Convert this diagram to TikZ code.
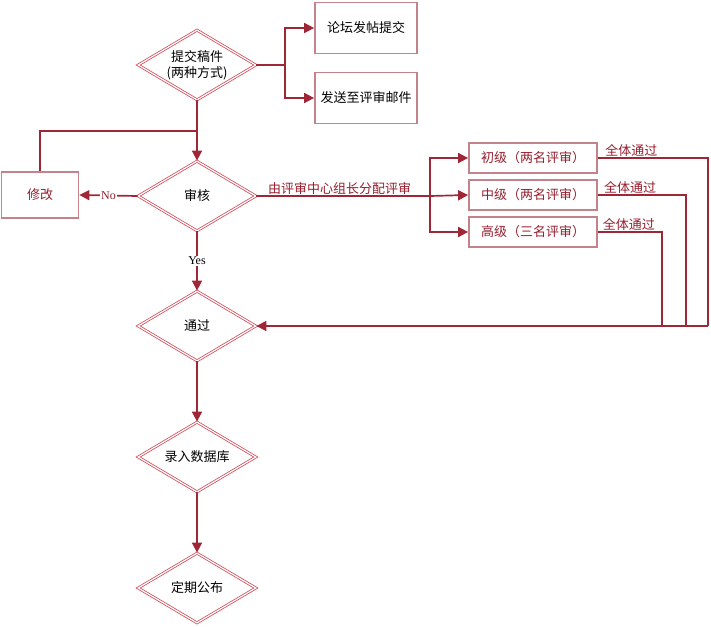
\documentclass[tikz,border=0pt]{standalone}
\usepackage{fontspec}
\setmainfont{Liberation Serif}
\newfontfamily\cjk{Noto Sans CJK SC}
\usetikzlibrary{shapes.geometric,arrows.meta,calc}
\definecolor{conncol}{RGB}{158,38,54}
\definecolor{diacol}{RGB}{212,78,92}
\definecolor{boxcol}{RGB}{196,130,138}
\definecolor{txtred}{RGB}{150,30,45}
\tikzset{
  dia/.style={diamond, draw=diacol, line width=0.8pt, double=white, double distance=1.2pt,
    minimum width=118pt, minimum height=70pt, inner sep=0pt},
  diatext/.style={align=center, inner sep=0pt, font=\cjk\fontsize{13}{16}\selectfont, text=black},
  rbox/.style={rectangle, draw=boxcol, line width=1.8pt, fill=white, align=center,
    font=\cjk\fontsize{13}{16}\selectfont},
  conn/.style={draw=conncol, line width=1.7pt},
  arr/.style={conn, -{Triangle[length=10pt,width=10pt]}},
  lbl/.style={font=\cjk\fontsize{13}{16}\selectfont, text=txtred, inner sep=1pt},
  yn/.style={font=\fontsize{12}{14}\selectfont, fill=white, inner sep=1pt}
}
\begin{document}
\begin{tikzpicture}[x=1pt,y=-1pt]
\useasboundingbox (0,0) rectangle (711,626);
% diamonds
\node[dia] (d1) at (197,65) {};
\node[diatext] (d1t) at (d1.center) {提交稿件\\(两种方式)};
\node[dia] (d2) at (197,196) {};
\node[diatext] (d2t) at (d2.center) {审核};
\node[dia] (d3) at (197,326) {};
\node[diatext] (d3t) at (d3.center) {通过};
\node[dia] (d4) at (197,457) {};
\node[diatext] (d4t) at (d4.center) {录入数据库};
\node[dia] (d5) at (197,588) {};
\node[diatext] (d5t) at (d5.center) {定期公布};
% boxes
\node[rbox, minimum width=102pt, minimum height=51pt, text=black] (b1) at (366,28) {论坛发帖提交};
\node[rbox, minimum width=102pt, minimum height=51pt, text=black] (b2) at (366,98) {发送至评审邮件};
\node[rbox, minimum width=77pt, minimum height=46pt, text=txtred] (m) at (40,195) {修改};
\node[rbox, minimum width=128pt, minimum height=30pt, text=txtred] (r1) at (533,158) {初级（两名评审）};
\node[rbox, minimum width=128pt, minimum height=30pt, text=txtred] (r2) at (533,195) {中级（两名评审）};
\node[rbox, minimum width=128pt, minimum height=30pt, text=txtred] (r3) at (533,232) {高级（三名评审）};
% coordinates
\coordinate (j1) at (285,65);
\coordinate (j2) at (197,131);
\coordinate (j3) at (430,196);
\coordinate (c1) at (708,158);
\coordinate (c2) at (686,195);
\coordinate (c3) at (662,232);
\coordinate (e1) at (708,326);
\coordinate (e2) at (686,326);
\coordinate (e3) at (662,326);
% submission branches
\draw[conn] (d1.east) -- (j1);
\draw[arr] (j1) |- (b1.west);
\draw[arr] (j1) |- (b2.west);
% to review
\draw[arr] (d1.south) -- (d2.north);
\draw[conn] (m.north) |- (j2);
% No
\draw[arr] (d2.west) -- node[yn, text=txtred, pos=0.5] {No} (m.east);
% Yes
\draw[arr] (d2.south) -- node[yn, text=black, pos=0.5] {Yes} (d3.north);
% assignment
\draw[conn] (d2.east) -- node[lbl, above, pos=0.48] {由评审中心组长分配评审} (j3);
\draw[arr] (j3) |- (r1.west);
\draw[arr] (j3) -- (r2.west);
\draw[arr] (j3) |- (r3.west);
% returns
\draw[conn] (r1.east) -- node[lbl, above right, pos=0.05] {全体通过} (c1) -- (e1);
\draw[conn] (r2.east) -- node[lbl, above right, pos=0.05] {全体通过} (c2) -- (e2);
\draw[conn] (r3.east) -- node[lbl, above right, pos=0.05] {全体通过} (c3) -- (e3);
\draw[arr] (e1) -- (d3.east);
% final
\draw[arr] (d3.south) -- (d4.north);
\draw[arr] (d4.south) -- (d5.north);
\end{tikzpicture}
\end{document}
